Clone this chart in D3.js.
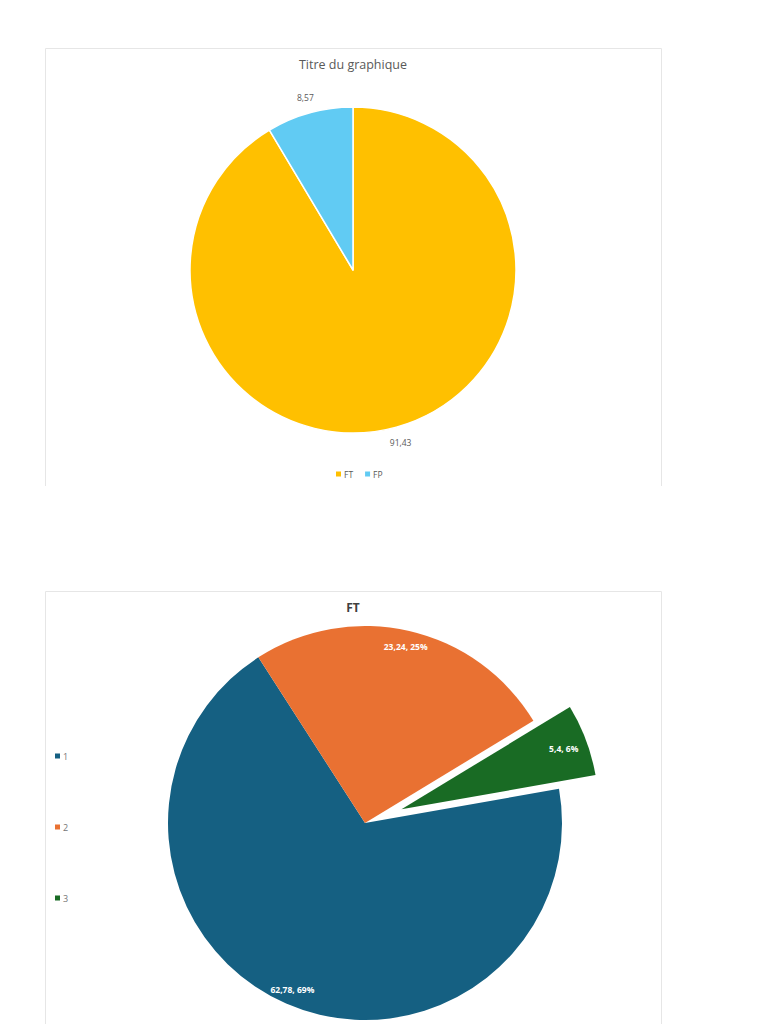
<!DOCTYPE html>
<html>
<head>
<meta charset="utf-8">
<script src="https://cdn.jsdelivr.net/npm/d3@7/dist/d3.min.js"></script>
<style>
  html, body { margin: 0; padding: 0; background: #ffffff; }
  svg { display: block; }
  text { font-family: "Open Sans", "Noto Sans", sans-serif; }
</style>
</head>
<body>
<svg id="chart" width="768" height="1024"></svg>
<script>
// ---- Data ----
const topTitle = "Titre du graphique";
const topCategories = ["FT", "FP"];
const topValues = [91.43, 8.57];
const topColors = ["#FFC000", "#61CBF3"];

const bottomTitle = "FT";
const bottomCategories = ["1", "2", "3"];
const bottomValues = [62.78, 23.24, 5.4];
const bottomColors = ["#156082", "#E97132", "#196B24"];
const bottomExploded = [false, false, true];
const bottomFirstSliceAngle = 80; // degrees

const fmt = v => String(v).replace(".", ",");

const svg = d3.select("#chart");

// ---- Frames ----
const frameColor = "#E6E6E6";
svg.append("path")
  .attr("d", "M45.5,486 V48.5 H661.5 V486")
  .attr("fill", "none").attr("stroke", frameColor).attr("stroke-width", 1);
svg.append("path")
  .attr("d", "M45.5,1030 V591.5 H661.5 V1030")
  .attr("fill", "none").attr("stroke", frameColor).attr("stroke-width", 1);

// ---- Top pie ----
{
  const cx = 353, cy = 270, r = 163;
  const g = svg.append("g").attr("transform", `translate(${cx},${cy})`);
  const pie = d3.pie().sort(null).value(d => d)
    .startAngle(0).endAngle(2 * Math.PI);
  const arcs = pie(topValues);
  const arc = d3.arc().innerRadius(0).outerRadius(r);
  const labelArc = d3.arc().innerRadius(r + 16).outerRadius(r + 16);

  g.selectAll("path.slice").data(arcs).enter().append("path")
    .attr("class", "slice")
    .attr("d", arc)
    .attr("fill", (d, i) => topColors[i])
    .attr("stroke", "#ffffff").attr("stroke-width", 1.5)
    .attr("stroke-linejoin", "round");

  g.selectAll("text.lbl").data(arcs).enter().append("text")
    .attr("class", "lbl")
    .attr("transform", d => `translate(${labelArc.centroid(d)})`)
    .attr("text-anchor", "middle").attr("dominant-baseline", "central")
    .attr("font-size", 8.5).attr("fill", "#595959")
    .text(d => fmt(d.data));

  svg.append("text")
    .attr("x", cx).attr("y", 64)
    .attr("text-anchor", "middle").attr("dominant-baseline", "central")
    .attr("font-size", 12.5).attr("fill", "#595959")
    .text(topTitle);

  const leg = svg.append("g").attr("transform", "translate(336,474)");
  let x = 0;
  topCategories.forEach((c, i) => {
    leg.append("rect").attr("x", x).attr("y", -2.5).attr("width", 5).attr("height", 5)
      .attr("fill", topColors[i]);
    const t = leg.append("text").attr("x", x + 8).attr("y", 0)
      .attr("dominant-baseline", "central")
      .attr("font-size", 8.5).attr("fill", "#595959").text(c);
    x += 8 + t.node().getComputedTextLength() + 12;
  });
}

// ---- Bottom pie ----
{
  const cx = 365, cy = 823, r = 197, explode = 39;
  const g = svg.append("g").attr("transform", `translate(${cx},${cy})`);
  const a0 = bottomFirstSliceAngle * Math.PI / 180;
  const pie = d3.pie().sort(null).value(d => d)
    .startAngle(a0).endAngle(a0 + 2 * Math.PI);
  const total = d3.sum(bottomValues);
  const arcs = pie(bottomValues);
  const arc = d3.arc().innerRadius(0).outerRadius(r);
  const labelArc = d3.arc().innerRadius(r * 0.92).outerRadius(r * 0.92);
  const labelArcExpl = d3.arc().innerRadius(r * 0.88).outerRadius(r * 0.88);

  const offset = (d, i) => {
    if (!bottomExploded[i]) return [0, 0];
    const m = (d.startAngle + d.endAngle) / 2;
    return [Math.sin(m) * explode, -Math.cos(m) * explode];
  };

  const sl = g.selectAll("g.slice").data(arcs).enter().append("g")
    .attr("class", "slice")
    .attr("transform", (d, i) => `translate(${offset(d, i)})`);

  sl.append("path")
    .attr("d", arc)
    .attr("fill", (d, i) => bottomColors[i]);

  sl.append("text")
    .attr("transform", (d, i) => `translate(${(bottomExploded[i] ? labelArcExpl : labelArc).centroid(d)})`)
    .attr("text-anchor", "middle").attr("dominant-baseline", "central")
    .attr("font-size", 8.5).attr("font-weight", "bold").attr("fill", "#ffffff")
    .text(d => `${fmt(d.data)}, ${Math.round(d.data / total * 100)}%`);

  svg.append("text")
    .attr("x", 353).attr("y", 607)
    .attr("text-anchor", "middle").attr("dominant-baseline", "central")
    .attr("font-size", 12).attr("font-weight", "bold").attr("fill", "#404040")
    .text(bottomTitle);

  const ly = d3.scalePoint().domain(bottomCategories).range([756, 898]);
  const leg = svg.append("g");
  bottomCategories.forEach((c, i) => {
    leg.append("rect").attr("x", 55).attr("y", ly(c) - 2.5).attr("width", 5).attr("height", 5)
      .attr("fill", bottomColors[i]);
    leg.append("text").attr("x", 63).attr("y", ly(c))
      .attr("dominant-baseline", "central")
      .attr("font-size", 9).attr("fill", "#757575").text(c);
  });
}
</script>
</body>
</html>
